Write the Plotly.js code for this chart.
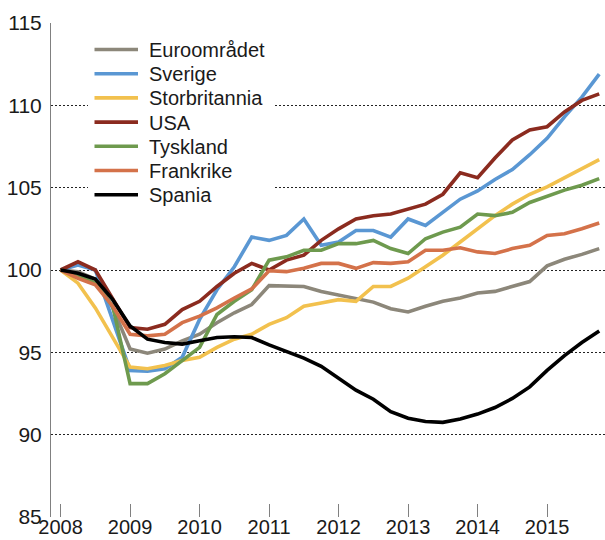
<!DOCTYPE html>
<html>
<head>
<meta charset="utf-8">
<script src="https://cdn.plot.ly/plotly-3.0.1.min.js"></script>
<style>
  html, body { margin: 0; padding: 0; background: #fff; }
  #chart { width: 605px; height: 540px; }
</style>
</head>
<body>
<div id="chart"></div>
<script>
// Quarterly index, 2008Q1 = 100
const quarters = [
  '2008Q1','2008Q2','2008Q3','2008Q4','2009Q1','2009Q2','2009Q3','2009Q4',
  '2010Q1','2010Q2','2010Q3','2010Q4','2011Q1','2011Q2','2011Q3','2011Q4',
  '2012Q1','2012Q2','2012Q3','2012Q4','2013Q1','2013Q2','2013Q3','2013Q4',
  '2014Q1','2014Q2','2014Q3','2014Q4','2015Q1','2015Q2','2015Q3','2015Q4'
];

const seriesNames = ['Euroområdet','Sverige','Storbritannia','USA','Tyskland','Frankrike','Spania'];
const seriesColors = ['#8C877A','#5A97D3','#F2C14E','#8B2B1F','#6E9A4E','#D4724A','#000000'];

const euroomradet = [100,99.9,99.45,97.7,95.2,94.95,95.2,95.7,96.1,96.8,97.4,97.9,99.05,99.05,99.0,98.7,
                     98.5,98.25,98.05,97.65,97.45,97.8,98.1,98.3,98.6,98.7,99.0,99.3,100.25,100.65,100.95,101.3];
const sverige     = [100,100.3,100.0,97.0,93.9,93.85,94.0,94.7,97.0,98.8,100.2,102.0,101.8,102.1,103.1,101.5,
                     101.7,102.4,102.4,102.0,103.1,102.7,103.5,104.3,104.8,105.5,106.1,107.0,108.0,109.3,110.5,111.9];
const storbritannia = [100,99.2,97.7,95.9,94.1,94.0,94.2,94.5,94.7,95.3,95.8,96.1,96.7,97.1,97.8,98.0,
                     98.2,98.1,99.0,99.0,99.5,100.2,100.9,101.7,102.5,103.3,104.0,104.6,105.05,105.6,106.1,106.7];
const usa         = [100,100.5,100.0,98.3,96.5,96.4,96.7,97.6,98.1,99.0,99.8,100.4,100.0,100.6,100.9,101.8,
                     102.5,103.1,103.3,103.4,103.7,104.0,104.6,105.9,105.6,106.8,107.9,108.5,108.7,109.6,110.3,110.7];
const tyskland    = [100,99.7,99.2,97.8,93.1,93.1,93.7,94.5,95.3,97.3,98.1,98.8,100.6,100.8,101.2,101.2,
                     101.6,101.6,101.8,101.3,101.0,101.9,102.3,102.6,103.4,103.3,103.5,104.1,104.5,104.85,105.15,105.55];
const frankrike   = [100,99.5,99.1,97.8,96.1,96.0,96.1,96.8,97.2,97.7,98.3,98.85,99.95,99.9,100.1,100.4,
                     100.4,100.1,100.45,100.4,100.5,101.2,101.2,101.35,101.1,101.0,101.3,101.5,102.1,102.2,102.5,102.85];
const spania      = [100,99.8,99.45,98.2,96.6,95.8,95.6,95.5,95.7,95.9,95.95,95.9,95.45,95.05,94.65,94.15,
                     93.45,92.7,92.15,91.4,91.0,90.8,90.75,90.95,91.25,91.65,92.2,92.9,93.9,94.8,95.6,96.3];

const seriesValues = [euroomradet, sverige, storbritannia, usa, tyskland, frankrike, spania];

const yearTicks = [2008,2009,2010,2011,2012,2013,2014,2015];
const yearLabels = ['2008','2009','2010','2011','2012','2013','2014','2015'];

// quarter string -> decimal year (Q1 at the year tick)
const xq = quarters.map(q => parseInt(q.slice(0,4)) + (parseInt(q.slice(5)) - 1) / 4);

const traces = seriesNames.map((name, i) => ({
  type: 'scatter',
  mode: 'lines',
  name: name,
  x: xq,
  y: seriesValues[i],
  line: { color: seriesColors[i], width: 3.6, shape: 'linear' },
  hoverinfo: 'skip'
}));

const fontFam = 'Liberation Sans, Arial, Helvetica, sans-serif';

// Plot area geometry (pixels) used to place the hand-built legend
const M = { l: 51, r: 0, t: 23, b: 23 };
const W = 605, H = 540;
const pw = W - M.l - M.r, ph = H - M.t - M.b;
const px = v => (v - M.l) / pw;          // pixel x -> paper x
const py = v => (H - M.b - v) / ph;      // pixel y -> paper y

const shapes = [];
const annotations = [];
// legend background
shapes.push({
  type: 'rect', xref: 'paper', yref: 'paper', layer: 'above',
  x0: px(88), x1: px(274), y0: py(34), y1: py(208),
  fillcolor: '#ffffff', line: { width: 0 }
});
seriesNames.forEach((name, i) => {
  const rowY = 49.5 + i * 24.2;
  shapes.push({
    type: 'line', xref: 'paper', yref: 'paper', layer: 'above',
    x0: px(94.5), x1: px(138), y0: py(rowY), y1: py(rowY),
    line: { color: seriesColors[i], width: 3.6 }
  });
  annotations.push({
    xref: 'paper', yref: 'paper', x: px(147), y: py(rowY + 0.5),
    xanchor: 'left', yanchor: 'middle', showarrow: false,
    text: name, font: { family: fontFam, size: 20, color: '#1a1a1a' }
  });
});

const layout = {
  width: W,
  height: H,
  margin: { l: M.l, r: M.r, t: M.t, b: M.b, pad: 0 },
  paper_bgcolor: '#ffffff',
  plot_bgcolor: '#ffffff',
  font: { family: fontFam, size: 20, color: '#1a1a1a' },
  showlegend: false,
  shapes: shapes,
  annotations: annotations,
  xaxis: {
    range: [2007.862, 2015.833],
    tickmode: 'array',
    tickvals: yearTicks,
    ticktext: yearLabels,
    ticks: 'inside',
    ticklen: 13,
    tickwidth: 1,
    tickcolor: '#808080',
    showgrid: false,
    zeroline: false,
    showline: false,
    automargin: false,
    ticklabelstandoff: -4,
    tickfont: { family: fontFam, size: 20, color: '#1a1a1a' },
    fixedrange: true
  },
  yaxis: {
    range: [85, 115],
    tickmode: 'array',
    tickvals: [85, 90, 95, 100, 105, 110, 115],
    ticktext: ['85','90','95','100','105','110','115'],
    ticks: '',
    showgrid: true,
    gridcolor: '#222222',
    gridwidth: 1,
    griddash: '2px,2px',
    zeroline: false,
    showline: true,
    linecolor: '#808080',
    linewidth: 1,
    automargin: false,
    ticklabelstandoff: 4,
    tickfont: { family: fontFam, size: 21, color: '#1a1a1a' },
    fixedrange: true
  }
};

Plotly.newPlot('chart', traces, layout, { staticPlot: true, displayModeBar: false });
</script>
</body>
</html>
